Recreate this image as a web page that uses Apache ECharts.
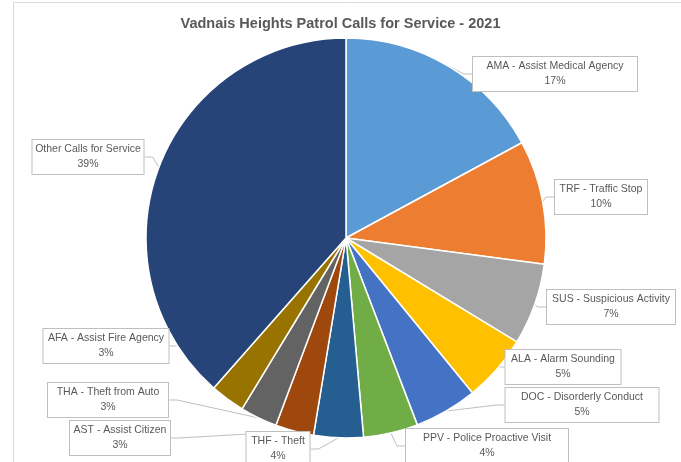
<!DOCTYPE html>
<html>
<head>
<meta charset="utf-8">
<script src="https://cdn.jsdelivr.net/npm/echarts@6/dist/echarts.min.js"></script>
<style>
html, body { margin: 0; padding: 0; background: #fff; }
#pieChart { width: 681px; height: 462px; }
</style>
</head>
<body>
<div id="pieChart"></div>
<script>
// calls for service, share in percent
var categories = [
	'AMA - Assist Medical Agency', 'TRF - Traffic Stop', 'SUS - Suspicious Activity',
	'ALA - Alarm Sounding', 'DOC - Disorderly Conduct', 'PPV - Police Proactive Visit',
	'THF - Theft', 'AST - Assist Citizen', 'THA - Theft from Auto',
	'AFA - Assist Fire Agency', 'Other Calls for Service'
];
var shares = [17.1, 10.0, 6.6, 5.4, 5.1, 4.4, 4.0, 3.1, 3.0, 2.8, 38.5];
var colorList = ['#5B9BD5', '#ED7D31', '#A5A5A5', '#FFC000', '#4472C4', '#70AD47',
	'#255E91', '#9E480E', '#636363', '#997300', '#264478'];

// label boxes: center x, center y, box width
var labelBox = [
	[555, 74, 164], [601, 197, 92], [611, 307, 128], [563, 367, 115],
	[582, 405, 153], [487, 446, 162], [278, 449, 63], [120, 438, 100],
	[108, 400, 120], [106, 346, 125], [88, 157, 111]
];

var pieChart = echarts.init(document.getElementById('pieChart'));

var seriesData = [];
for (var i = 0; i < categories.length; i++) {
	seriesData.push({
		name: categories[i],
		value: shares[i],
		itemStyle: { color: colorList[i] },
		label: { width: labelBox[i][2] - 12 }
	});
}

var option = {
	backgroundColor: '#fff',
	animation: false,
	title: {
		text: 'Vadnais Heights Patrol Calls for Service - 2021',
		left: 'center',
		top: 11,
		textStyle: {
			fontFamily: 'Liberation Sans, Arial, sans-serif',
			fontSize: 14.5,
			fontWeight: 'bold',
			color: '#595959'
		}
	},
	graphic: [{
		type: 'rect',
		shape: { x: 13.5, y: 2.5, width: 700, height: 500 },
		style: { fill: 'none', stroke: '#d9d9d9', lineWidth: 1 },
		silent: true
	}],
	series: [{
		type: 'pie',
		center: [346, 238],
		radius: 200,
		startAngle: 90,
		clockwise: true,
		avoidLabelOverlap: false,
		itemStyle: { borderColor: '#fff', borderWidth: 1.5 },
		label: {
			show: true,
			position: 'outside',
			formatter: function (params) {
				return params.name + '\n' + Math.round(params.value) + '%';
			},
			fontFamily: 'Liberation Sans, Arial, sans-serif',
			fontSize: 10.5,
			lineHeight: 15,
			color: '#595959',
			align: 'center',
			overflow: 'none',
			backgroundColor: '#fff',
			borderColor: '#bfbfbf',
			borderWidth: 1,
			padding: [2, 6]
		},
		labelLine: {
			show: true,
			length: 8,
			length2: 8,
			lineStyle: { color: '#bfbfbf', width: 1 }
		},
		labelLayout: function (params) {
			var b = labelBox[params.dataIndex];
			return { x: b[0], y: b[1], align: 'center', verticalAlign: 'middle' };
		},
		data: seriesData
	}]
};
pieChart.setOption(option);
</script>
</body>
</html>
